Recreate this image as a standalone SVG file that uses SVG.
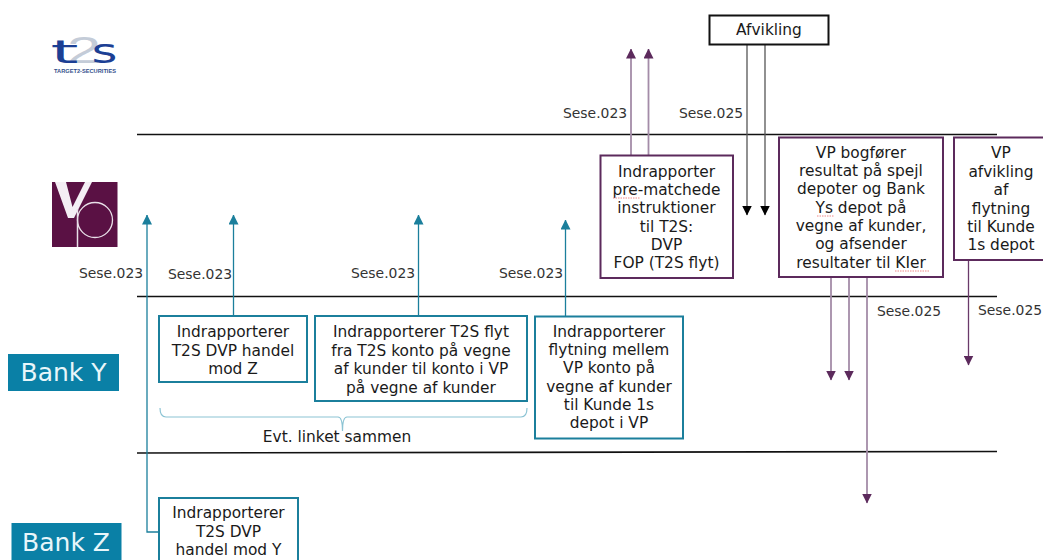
<svg xmlns="http://www.w3.org/2000/svg" width="1043" height="560" viewBox="0 0 1043 560">
<style>
text{font-family:"DejaVu Sans","Liberation Sans",sans-serif;fill:#1a1a1a;font-size:15.4px;text-anchor:middle}
.lbl{font-size:13.9px;fill:#333;text-anchor:start}
.band{stroke:#111;stroke-width:1.6;fill:none}
.t{fill:#fff;stroke:#1b7f9c;stroke-width:2}
.p{fill:#fff;stroke:#5c2a5c;stroke-width:2}
.k{fill:#fff;stroke:#111;stroke-width:2}
.tc{stroke:#1b7f9c;stroke-width:1.3;fill:none}
.pc{stroke:#a48ca8;stroke-width:1.8;fill:none}
.pd{stroke:#6a3a6a;stroke-width:1.3;fill:none}
.kc{stroke:#555;stroke-width:1.3;fill:none}
.sq{stroke:#e88;stroke-width:1;stroke-dasharray:1.5 1;fill:none}
.bank{font-size:25px;fill:#e8f6fa}
</style>
<defs>
<marker id="at" viewBox="0 0 10 10" refX="9.5" refY="5" markerUnits="userSpaceOnUse" markerWidth="10" markerHeight="10" orient="auto"><path d="M0 0L10 5L0 10z" fill="#1b7f9c"/></marker>
<marker id="ap" viewBox="0 0 10 10" refX="9.5" refY="5" markerUnits="userSpaceOnUse" markerWidth="10" markerHeight="10" orient="auto"><path d="M0 0L10 5L0 10z" fill="#5c2a5c"/></marker>
<marker id="ak" viewBox="0 0 10 10" refX="9.5" refY="5" markerUnits="userSpaceOnUse" markerWidth="10" markerHeight="10" orient="auto"><path d="M0 0L10 5L0 10z" fill="#000"/></marker>
</defs>
<g id="bands">
<path class="band" d="M137 134.500H997"/>
<path class="band" d="M137 296.500H997"/>
<path class="band" d="M137 453L997 451.500"/>
</g>
<g id="logo-t2s">
<text x="84" y="63" style="font-family:'Liberation Sans',sans-serif;font-size:37px;fill:#c4ccd8" textLength="34" lengthAdjust="spacingAndGlyphs">2</text>
<text x="64.500" y="63" style="font-family:'DejaVu Sans',sans-serif;font-size:32px;fill:#1c3f94" textLength="28" lengthAdjust="spacingAndGlyphs">t</text>
<text x="104.500" y="63" style="font-family:'DejaVu Sans',sans-serif;font-size:34px;fill:#1c3f94" textLength="26" lengthAdjust="spacingAndGlyphs">s</text>
<text x="85" y="73" style="font-family:'Liberation Sans',sans-serif;font-size:5.500px;font-weight:bold;fill:#34508c" textLength="62" lengthAdjust="spacingAndGlyphs">TARGET2-SECURITIES</text>
</g>
<g id="logo-vp">
<rect x="52" y="182" width="65.500" height="65" fill="#5a1144"/>
<path d="M55 182L68 218H74L92 182H85L72.500 207L66 182z" fill="#f4eef4"/>
<path d="M77.500 209V247" stroke="#e8dfe8" stroke-width="1.500"/>
<circle cx="95" cy="220" r="17.500" fill="none" stroke="#e8dfe8" stroke-width="1.300"/>
</g>
<g id="connectors">
<path class="tc" d="M159 532H147V215" marker-end="url(#at)"/>
<path class="tc" d="M233.500 315V215" marker-end="url(#at)"/>
<path class="tc" d="M418.500 315V215" marker-end="url(#at)"/>
<path class="tc" d="M565.500 316V220" marker-end="url(#at)"/>
<path class="pc" d="M631 155V49" marker-end="url(#ap)"/>
<path class="pc" d="M648.500 155V49" marker-end="url(#ap)"/>
<path class="kc" d="M747 44V215" marker-end="url(#ak)"/>
<path class="kc" d="M765 44V215" marker-end="url(#ak)"/>
<path class="pc" d="M831 277V380" marker-end="url(#ap)"/>
<path class="pc" d="M849 277V380" marker-end="url(#ap)"/>
<path class="pc" d="M867 277V503" marker-end="url(#ap)"/>
<path class="pd" d="M968.500 260V365" marker-end="url(#ap)"/>
<path d="M160 408Q160 417 166 417H338Q342.500 417 342.500 431Q342.500 417 347 417H521Q527 417 527 408" fill="none" stroke="#8cc4d4" stroke-width="1.200"/>
</g>
<g id="afvikling"><rect class="k" x="709.500" y="15.500" width="119" height="29"/><text x="769" y="35">Afvikling</text></g>
<g id="vp-pre"><rect class="p" x="600.500" y="155.500" width="132.500" height="122.500"/>
<text x="666.500" y="177">Indrapporter</text><text x="666.500" y="195">pre-matchede</text><text x="666.500" y="213">instruktioner</text><text x="666.500" y="232">til T2S:</text><text x="666.500" y="250">DVP</text><text x="666.500" y="268">FOP (T2S flyt)</text>
<path class="sq" d="M613 198H640"/></g>
<g id="vp-bogf"><rect class="p" x="779" y="137.500" width="164" height="139.500"/>
<text x="861" y="158">VP bogfører</text><text x="861" y="176">resultat på spejl</text><text x="861" y="194">depoter og Bank</text><text x="861" y="213">Ys depot på</text><text x="861" y="231">vegne af kunder,</text><text x="861" y="249">og afsender</text><text x="861" y="268">resultater til KIer</text>
<path class="sq" d="M817 216H834M895 271H929"/></g>
<g id="vp-afv"><rect class="p" x="954" y="137.500" width="100" height="122.500"/>
<text x="1001" y="158">VP</text><text x="1001" y="177">afvikling</text><text x="1001" y="195">af</text><text x="1001" y="214">flytning</text><text x="1001" y="232">til Kunde</text><text x="1001" y="250">1s depot</text></g>
<g id="by-dvp"><rect class="t" x="159" y="316" width="148" height="66"/>
<text x="233" y="337">Indrapporterer</text><text x="233" y="356">T2S DVP handel</text><text x="233" y="374">mod Z</text></g>
<g id="by-flyt"><rect class="t" x="315" y="316" width="212" height="85"/>
<text x="421" y="337">Indrapporterer T2S flyt</text><text x="421" y="356">fra T2S konto på vegne</text><text x="421" y="374">af kunder til konto i VP</text><text x="421" y="393">på vegne af kunder</text></g>
<g id="by-flytning"><rect class="t" x="535" y="316.500" width="148" height="122"/>
<text x="609" y="337">Indrapporterer</text><text x="609" y="355">flytning mellem</text><text x="609" y="373">VP konto på</text><text x="609" y="392">vegne af kunder</text><text x="609" y="410">til Kunde 1s</text><text x="609" y="428">depot i VP</text></g>
<g id="bz-dvp"><rect class="t" x="159" y="498" width="139" height="70"/>
<text x="228.500" y="518">Indrapporterer</text><text x="228.500" y="537">T2S DVP</text><text x="228.500" y="555">handel mod Y</text></g>
<g id="bank-y"><rect x="8" y="354" width="111" height="37" fill="#0a80a6"/><text class="bank" x="63.500" y="381">Bank Y</text></g>
<g id="bank-z"><rect x="11.500" y="523" width="110" height="37" fill="#0a80a6"/><text class="bank" x="66" y="551">Bank Z</text></g>
<g id="labels">
<text class="lbl" x="563" y="118">Sese.023</text>
<text class="lbl" x="679" y="118">Sese.025</text>
<text class="lbl" x="79" y="278">Sese.023</text>
<text class="lbl" x="168" y="279">Sese.023</text>
<text class="lbl" x="351" y="278">Sese.023</text>
<text class="lbl" x="499" y="278">Sese.023</text>
<text class="lbl" x="877" y="316">Sese.025</text>
<text class="lbl" x="978" y="315">Sese.025</text>
<text x="337" y="442">Evt. linket sammen</text>
</g>
</svg>
